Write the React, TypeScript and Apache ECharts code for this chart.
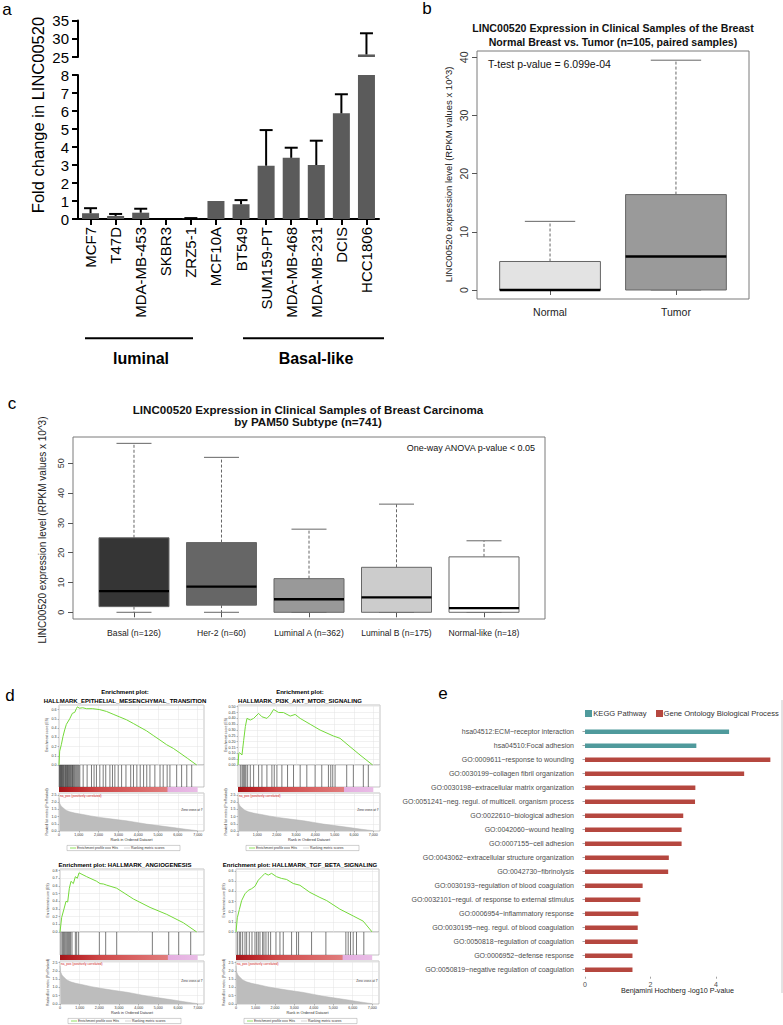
import React, { useEffect, useRef } from "react";
import * as echarts from "echarts";

const FONT = "'Liberation Sans', Arial, Helvetica, sans-serif";

// ---------------- panel a ----------------
const cellLines = ["MCF7", "T47D", "MDA-MB-453", "SKBR3", "ZRZ5-1", "MCF10A", "BT549", "SUM159-PT", "MDA-MB-468", "MDA-MB-231", "DCIS", "HCC1806"];
const foldMean = [0.32, 0.17, 0.35, 0, 0.02, 1.0, 0.82, 2.96, 3.4, 3.0, 5.87, 25.7];
const foldUpper = [0.6, 0.28, 0.57, 0, 0.05, 1.0, 1.05, 4.94, 3.96, 4.35, 6.93, 31.5];
const groupNames = ["luminal", "Basal-like"];

// ---------------- panel b ----------------
const pairGroups = ["Normal", "Tumor"];
// low, q1, median, q3, high
const pairStats = [
  [0, 0, 0, 4.9, 11.8],
  [0, 0, 5.75, 16.4, 39.5],
];
const pairTicks = [0, 10, 20, 30, 40];

// ---------------- panel c ----------------
const pamGroups = ["Basal (n=126)", "Her-2 (n=60)", "Luminal A (n=362)", "Luminal B (n=175)", "Normal-like (n=18)"];
const pamStats = [
  [0, 1.9, 7.1, 25.0, 56.7],
  [0, 2.4, 8.6, 23.4, 52.0],
  [0, 0, 4.4, 11.3, 27.9],
  [0, 0, 5.0, 15.1, 36.3],
  [0, 0, 1.4, 18.6, 24.0],
];
const pamTicks = [0, 10, 20, 30, 40, 50];

// ---------------- panel d (GSEA) ----------------
const esEmt = [[0, 0], [34, 0.15], [118, 0.22], [202, 0.31], [287, 0.38], [371, 0.44], [540, 0.5], [675, 0.56], [793, 0.57], [877, 0.61], [928, 0.63], [1030, 0.615], [1200, 0.62], [1383, 0.61], [1700, 0.61], [2058, 0.6], [2400, 0.58], [2733, 0.55], [3070, 0.52], [3408, 0.49], [3750, 0.45], [4083, 0.41], [4420, 0.37], [4757, 0.32], [5100, 0.27], [5432, 0.22], [5770, 0.18], [6107, 0.13], [6500, 0.07], [6951, 0]];
const esPi3k = [[0, 0], [40, 0.1], [86, 0.105], [206, 0.086], [292, 0.21], [380, 0.33], [464, 0.4], [636, 0.386], [808, 0.4], [1066, 0.443], [1238, 0.414], [1496, 0.4], [1668, 0.43], [1840, 0.477], [2098, 0.451], [2356, 0.45], [2700, 0.42], [2958, 0.434], [3216, 0.4], [3732, 0.35], [4248, 0.3], [4936, 0.249], [5280, 0.229], [5796, 0.157], [6312, 0.086], [6966, 0]];
const esAngio = [[0, 0], [85, 0.19], [203, 0.3], [305, 0.4], [390, 0.39], [475, 0.57], [559, 0.66], [678, 0.63], [780, 0.72], [881, 0.7], [966, 0.77], [1356, 0.72], [1865, 0.66], [2034, 0.63], [2204, 0.625], [2373, 0.61], [2882, 0.57], [3729, 0.43], [4577, 0.32], [5424, 0.23], [6272, 0.12], [6950, 0]];
const esTgf = [[0, 0], [68, 0.14], [171, 0.22], [291, 0.31], [462, 0.376], [633, 0.41], [804, 0.426], [975, 0.45], [1146, 0.51], [1317, 0.544], [1489, 0.577], [1660, 0.56], [1831, 0.577], [2087, 0.544], [2344, 0.527], [2601, 0.517], [2943, 0.477], [3285, 0.46], [3798, 0.39], [4312, 0.34], [4654, 0.31], [5338, 0.225], [6023, 0.158], [6536, 0.107], [6998, 0]];

const hitsEmt = [20, 50, 80, 110, 140, 160, 190, 230, 260, 300, 330, 370, 400, 430, 470, 500, 540, 570, 610, 650, 680, 720, 760, 800, 850, 900, 950, 1000, 1050, 1220, 1420, 1640, 1770, 1890, 2060, 2230, 2360, 2570, 2700, 2820, 2990, 3160, 3380, 3620, 3760, 3930, 4100, 4270, 4430, 4590, 4840, 5100, 5260, 5460, 5600, 5940, 6190, 6450, 6700];
const hitsPi3k = [120, 206, 258, 310, 361, 413, 499, 636, 808, 1066, 1238, 1496, 1754, 1875, 2012, 2270, 2563, 2872, 3216, 3560, 3990, 4334, 4678, 4799, 4902, 5022, 5624, 5968, 6484, 6742];
const hitsAngio = [51, 119, 170, 220, 271, 339, 390, 441, 492, 542, 610, 780, 848, 949, 2000, 2322, 2882, 4695, 5526, 6034, 6644];
const hitsTgf = [68, 171, 240, 342, 462, 548, 684, 821, 975, 1061, 1146, 1232, 1369, 1437, 1540, 1660, 1779, 2053, 2259, 2430, 2857, 3114, 3217, 3884, 4620, 5646, 5766, 5886, 6023, 6194, 6570];

const rankedMetric = [[0, 2.3], [30, 1.95], [100, 1.75], [202, 1.62], [350, 1.45], [540, 1.34], [800, 1.25], [1215, 1.15], [1600, 1.05], [2058, 0.95], [2700, 0.83], [3408, 0.71], [4000, 0.58], [4420, 0.48], [5100, 0.36], [5770, 0.24], [6400, 0.12], [7000, 0.02]];

// ---------------- panel e ----------------
const eTerms = [
  "hsa04512:ECM~receptor interaction",
  "hsa04510:Focal adhesion",
  "GO:0009611~response to wounding",
  "GO:0030199~collagen fibril organization",
  "GO:0030198~extracellular matrix organization",
  "GO:0051241~neg. regul. of multicell. organism process",
  "GO:0022610~biological adhesion",
  "GO:0042060~wound healing",
  "GO:0007155~cell adhesion",
  "GO:0043062~extracellular structure organization",
  "GO:0042730~fibrinolysis",
  "GO:0030193~regulation of blood coagulation",
  "GO:0032101~regul. of response to external stimulus",
  "GO:0006954~inflammatory response",
  "GO:0030195~neg. regul. of blood coagulation",
  "GO:0050818~regulation of coagulation",
  "GO:0006952~defense response",
  "GO:0050819~negative regulation of coagulation",
];
const eValues = [4.4, 3.4, 5.66, 4.86, 3.37, 3.36, 3.0, 2.95, 2.95, 2.56, 2.54, 1.76, 1.69, 1.63, 1.61, 1.61, 1.45, 1.45];
const eSource = ["KEGG", "KEGG", "GO", "GO", "GO", "GO", "GO", "GO", "GO", "GO", "GO", "GO", "GO", "GO", "GO", "GO", "GO", "GO"];
const eLegend = ["KEGG Pathway", "Gene Ontology Biological Process"];
const eTicks = [0, 2, 4];

const TEAL = "#4f9a9c";
const BRICK = "#b5473f";

function makeBoxRender(fills: string[]) {
  return (params: any, api: any) => {
    const x = api.value(0);
    const lo = api.value(1), q1 = api.value(2), md = api.value(3), q3 = api.value(4), hi = api.value(5);
    const half = 0.4, cap = 0.2;
    const xL = api.coord([x - half, 0])[0];
    const xR = api.coord([x + half, 0])[0];
    const cL = api.coord([x - cap, 0])[0];
    const cR = api.coord([x + cap, 0])[0];
    const cx = api.coord([x, 0])[0];
    const y = (v: number) => api.coord([x, v])[1];
    const ch: any[] = [];
    const dash = { stroke: "#666", lineWidth: 1, lineDash: [3, 2] };
    if (hi > q3) ch.push({ type: "line", shape: { x1: cx, y1: y(q3), x2: cx, y2: y(hi) }, style: dash });
    if (q1 > lo) ch.push({ type: "line", shape: { x1: cx, y1: y(q1), x2: cx, y2: y(lo) }, style: dash });
    ch.push({ type: "line", shape: { x1: cL, y1: y(hi), x2: cR, y2: y(hi) }, style: { stroke: "#666", lineWidth: 1 } });
    ch.push({ type: "line", shape: { x1: cL, y1: y(lo), x2: cR, y2: y(lo) }, style: { stroke: "#666", lineWidth: 1 } });
    ch.push({ type: "rect", shape: { x: xL, y: y(q3), width: xR - xL, height: y(q1) - y(q3) }, style: { fill: fills[params.dataIndex], stroke: "#666", lineWidth: 1 } });
    ch.push({ type: "line", shape: { x1: xL, y1: y(md), x2: xR, y2: y(md) }, style: { stroke: "#000", lineWidth: 2.4 } });
    return { type: "group", children: ch };
  };
}

function buildOption() {
  const grid: any[] = [], xAxis: any[] = [], yAxis: any[] = [], series: any[] = [], gfx: any[] = [];
  const text = (x: number, y: number, s: string, size: number, o: any = {}) => {
    gfx.push({
      type: "text", x, y, rotation: o.rot || 0, silent: true, z: 100,
      style: {
        text: s, fontSize: size, fontFamily: FONT, fontWeight: o.bold ? "bold" : "normal", fill: o.color || "#111",
        align: o.align || "center", textAlign: o.align || "center", verticalAlign: "middle", textVerticalAlign: "middle",
      },
    });
  };
  const line = (x1: number, y1: number, x2: number, y2: number, color: string, w: number) => {
    gfx.push({ type: "line", silent: true, z: 100, shape: { x1, y1, x2, y2 }, style: { stroke: color, lineWidth: w } });
  };

  // panel letters
  text(7, 9, "a", 17, { color: "#000" });
  text(427, 8, "b", 17, { color: "#000" });
  text(12, 403, "c", 17, { color: "#000" });
  text(10, 695, "d", 17, { color: "#000" });
  text(443, 693, "e", 17, { color: "#000" });

  // ================= panel a =================
  const blackLine = { show: true, lineStyle: { color: "#000", width: 2 } };
  const blackTick = { show: true, length: 6, lineStyle: { color: "#000", width: 2 } };
  grid.push({ left: 78, top: 20.5, width: 301, height: 36.5 }); // 0
  grid.push({ left: 78, top: 75, width: 301, height: 144 }); // 1
  xAxis.push({ gridIndex: 0, type: "category", data: cellLines, show: false });
  yAxis.push({ gridIndex: 0, type: "value", min: 25, max: 35, interval: 5, axisLine: blackLine, axisTick: blackTick, splitLine: { show: false }, axisLabel: { fontSize: 15, color: "#000", margin: 9, fontFamily: FONT } });
  xAxis.push({ gridIndex: 1, type: "category", data: cellLines, axisLine: blackLine, axisTick: { ...blackTick, alignWithLabel: true }, axisLabel: { rotate: 90, fontSize: 15, color: "#000", margin: 8, interval: 0, fontFamily: FONT } });
  yAxis.push({ gridIndex: 1, type: "value", min: 0, max: 8, interval: 1, axisLine: blackLine, axisTick: blackTick, splitLine: { show: false }, axisLabel: { fontSize: 15, color: "#000", margin: 9, fontFamily: FONT } });
  series.push({ type: "bar", xAxisIndex: 1, yAxisIndex: 1, data: foldMean, barWidth: 17, clip: true, silent: true, itemStyle: { color: "#5b5b5b" } });
  series.push({ type: "bar", xAxisIndex: 0, yAxisIndex: 0, data: foldMean.map((v) => (v > 25 ? v : "-")), barWidth: 17, clip: true, silent: true, itemStyle: { color: "#5b5b5b" } });
  const errRender = (params: any, api: any) => {
    const i = api.value(0);
    const a = api.coord([i, api.value(1)]);
    const b = api.coord([i, api.value(2)]);
    return {
      type: "group",
      children: [
        { type: "line", shape: { x1: a[0], y1: a[1], x2: b[0], y2: b[1] }, style: { stroke: "#000", lineWidth: 2 } },
        { type: "line", shape: { x1: b[0] - 6.5, y1: b[1], x2: b[0] + 6.5, y2: b[1] }, style: { stroke: "#000", lineWidth: 2 } },
      ],
    };
  };
  series.push({ type: "custom", xAxisIndex: 1, yAxisIndex: 1, silent: true, z: 5, renderItem: errRender, data: cellLines.map((_, i) => [i, foldMean[i], foldUpper[i]]).filter((d) => d[2] <= 8 && d[2] > d[1]) });
  series.push({ type: "custom", xAxisIndex: 0, yAxisIndex: 0, silent: true, z: 5, renderItem: errRender, data: cellLines.map((_, i) => [i, foldMean[i], foldUpper[i]]).filter((d) => d[1] > 8) });
  text(38, 115, "Fold change in LINC00520", 16.5, { rot: Math.PI / 2, color: "#000" });
  line(85, 338.3, 193, 338.3, "#000", 2);
  line(243, 338.3, 384, 338.3, "#000", 2);
  text(141, 358, groupNames[0], 16, { bold: true, color: "#000" });
  text(316, 358, groupNames[1], 16, { bold: true, color: "#000" });

  // ================= panel b =================
  grid.push({ left: 477, top: 51, width: 272, height: 248, show: true, borderColor: "#7a7a7a", borderWidth: 1, backgroundColor: "transparent" }); // 2
  xAxis.push({ gridIndex: 2, type: "value", min: 0.42, max: 2.58, axisLine: { show: false }, splitLine: { show: false }, axisTick: { show: true, customValues: [1, 2], length: 5, lineStyle: { color: "#555" } }, axisLabel: { customValues: [1, 2], formatter: (v: number) => pairGroups[Math.round(v) - 1] || "", fontSize: 10.5, color: "#222", margin: 7 } });
  yAxis.push({ gridIndex: 2, type: "value", min: -1.547, max: 41.08, axisLine: { show: false }, splitLine: { show: false }, axisTick: { show: true, customValues: pairTicks, length: 5, lineStyle: { color: "#555" } }, axisLabel: { customValues: pairTicks, rotate: 90, fontSize: 10.5, color: "#333", margin: 8 } });
  series.push({ type: "custom", xAxisIndex: 2, yAxisIndex: 2, silent: true, renderItem: makeBoxRender(["#e3e3e3", "#9a9a9a"]), data: pairStats.map((s, i) => [i + 1, ...s]) });
  text(613, 28.3, "LINC00520 Expression in Clinical Samples of the Breast", 10.6, { bold: true });
  text(613, 41.7, "Normal Breast vs. Tumor (n=105, paired samples)", 10.6, { bold: true });
  text(488, 64, "T-test p-value = 6.099e-04", 10.5, { align: "left" });
  text(448, 174.5, "LINC00520 expression level (RPKM values x 10^3)", 9.5, { rot: Math.PI / 2, color: "#222" });

  // ================= panel c =================
  grid.push({ left: 73, top: 437, width: 472, height: 182, show: true, borderColor: "#7a7a7a", borderWidth: 1, backgroundColor: "transparent" }); // 3
  xAxis.push({ gridIndex: 3, type: "value", min: 0.303, max: 5.697, axisLine: { show: false }, splitLine: { show: false }, axisTick: { show: true, customValues: [1, 2, 3, 4, 5], length: 5, lineStyle: { color: "#555" } }, axisLabel: { customValues: [1, 2, 3, 4, 5], formatter: (v: number) => pamGroups[Math.round(v) - 1] || "", fontSize: 8.6, color: "#222", margin: 9 } });
  yAxis.push({ gridIndex: 3, type: "value", min: -2.25, max: 58.83, axisLine: { show: false }, splitLine: { show: false }, axisTick: { show: true, customValues: pamTicks, length: 5, lineStyle: { color: "#555" } }, axisLabel: { customValues: pamTicks, rotate: 90, fontSize: 9, color: "#333", margin: 8 } });
  series.push({ type: "custom", xAxisIndex: 3, yAxisIndex: 3, silent: true, renderItem: makeBoxRender(["#353535", "#666666", "#999999", "#cccccc", "#ffffff"]), data: pamStats.map((s, i) => [i + 1, ...s]) });
  text(308, 409, "LINC00520 Expression in Clinical Samples of Breast Carcinoma", 11.6, { bold: true });
  text(308, 421, "by PAM50 Subtype (n=741)", 11.6, { bold: true });
  text(535, 448, "One-way ANOVA p-value < 0.05", 9, { align: "right" });
  text(42, 530, "LINC00520 expression level (RPKM values x 10^3)", 10, { rot: Math.PI / 2, color: "#222" });

  // ================= panel e =================
  grid.push({ left: 579, top: 724.7, width: 202, height: 252 }); // 4
  xAxis.push({ gridIndex: 4, type: "value", min: -0.183, max: 5.985, axisLine: { show: false }, splitLine: { show: false }, axisTick: { show: true, customValues: eTicks, length: 2, lineStyle: { color: "#666", width: 0.6 } }, axisLabel: { customValues: eTicks, fontSize: 7, color: "#4d4d4d", margin: 4 } });
  yAxis.push({ gridIndex: 4, type: "category", data: eTerms, inverse: true, axisLine: { show: false }, splitLine: { show: false }, axisTick: { show: true, length: 2.5, alignWithLabel: true, lineStyle: { color: "#666", width: 0.6 } }, axisLabel: { fontSize: 7, color: "#4d4d4d", margin: 5, interval: 0 } });
  series.push({ type: "bar", name: eLegend[0], xAxisIndex: 4, yAxisIndex: 4, silent: true, barWidth: 4.5, barGap: "-100%", itemStyle: { color: TEAL }, data: eValues.map((v, i) => (eSource[i] === "KEGG" ? v : "-")) });
  series.push({ type: "bar", name: eLegend[1], xAxisIndex: 4, yAxisIndex: 4, silent: true, barWidth: 4.5, barGap: "-100%", itemStyle: { color: BRICK }, data: eValues.map((v, i) => (eSource[i] === "GO" ? v : "-")) });
  gfx.push({ type: "rect", silent: true, shape: { x: 585, y: 710, width: 7, height: 7 }, style: { fill: TEAL } });
  text(593.3, 713.5, eLegend[0], 7.6, { align: "left", color: "#333" });
  gfx.push({ type: "rect", silent: true, shape: { x: 656, y: 710, width: 7, height: 7 }, style: { fill: BRICK } });
  text(663.5, 713.5, eLegend[1], 7.6, { align: "left", color: "#333" });
  text(677.5, 990.3, "Benjamini Hochberg -log10 P-value", 7.2, { color: "#222" });
  line(782, 700, 782, 993, "#c8c8c8", 1);

  // ================= panel d (GSEA) =================
  const gsea = (L: any, es: number[][], hits: number[], esMax: number, esStep: number, digits: number, titles: string[]) => {
    const gi = grid.length;
    const gridBorder = { show: true, borderColor: "#a0a0a0", borderWidth: 0.6, backgroundColor: "#fff" };
    const light = { show: true, lineStyle: { color: "#e2e2e2", width: 0.5 } };
    const tinyTick = { show: true, length: 1.5, lineStyle: { color: "#777", width: 0.5 } };
    // ES
    grid.push({ left: L.left, top: L.esTop, width: L.width, height: L.esH, ...gridBorder });
    xAxis.push({ gridIndex: gi, type: "value", min: 0, max: L.xMax, interval: 1000, axisLine: { show: false }, axisTick: { show: false }, axisLabel: { show: false }, splitLine: light });
    yAxis.push({ gridIndex: gi, type: "value", min: 0, max: esMax, interval: esStep, axisLine: { show: false }, axisTick: tinyTick, splitLine: light, axisLabel: { fontSize: 3.6, color: "#333", margin: 2.5, showMaxLabel: false, formatter: (v: number) => v.toFixed(digits) } });
    series.push({ type: "line", xAxisIndex: gi, yAxisIndex: gi, data: es, symbol: "none", showSymbol: false, silent: true, lineStyle: { color: "#74d93a", width: 1 } });
    // hits
    const hi = gi + 1;
    const hitsTop = L.esTop + L.esH;
    grid.push({ left: L.left, top: hitsTop, width: L.width, height: L.hitsH, ...gridBorder });
    xAxis.push({ gridIndex: hi, type: "value", min: 0, max: L.xMax, show: false });
    yAxis.push({ gridIndex: hi, type: "value", min: 0, max: 1, show: false });
    series.push({
      type: "custom", xAxisIndex: hi, yAxisIndex: hi, silent: true, data: hits.map((h) => [h, 0.5]),
      renderItem: (p: any, api: any) => {
        const a = api.coord([api.value(0), 0]);
        const b = api.coord([api.value(0), 1]);
        return { type: "line", shape: { x1: a[0], y1: a[1], x2: b[0], y2: b[1] }, style: { stroke: "#222", lineWidth: 0.6 } };
      },
    });
    // red/pink ranking bar
    const redTop = hitsTop + L.hitsH;
    gfx.push({
      type: "rect", silent: true, z: 50,
      shape: { x: L.left, y: redTop, width: (L.width * 7000) / L.xMax, height: 5 },
      style: {
        fill: {
          type: "linear", x: 0, y: 0, x2: 1, y2: 0,
          colorStops: [
            { offset: 0, color: "#a3161a" }, { offset: 0.1, color: "#b82327" }, { offset: 0.3, color: "#cf4a4a" },
            { offset: 0.55, color: "#d96464" }, { offset: 0.78, color: "#e07d7d" }, { offset: 0.785, color: "#e4aee0" }, { offset: 1, color: "#e9bde6" },
          ],
        },
      },
    });
    // metric
    const mi = gi + 2;
    grid.push({ left: L.left, top: L.metTop, width: L.width, height: L.metH, ...gridBorder });
    xAxis.push({ gridIndex: mi, type: "value", min: 0, max: L.xMax, interval: 1000, axisLine: { show: false }, axisTick: tinyTick, splitLine: light, axisLabel: { fontSize: 3.6, color: "#333", margin: 2, showMaxLabel: false, formatter: (v: number) => v.toLocaleString("en-US") } });
    yAxis.push({ gridIndex: mi, type: "value", min: 0, max: L.metMax, interval: 0.5, axisLine: { show: false }, axisTick: tinyTick, splitLine: light, axisLabel: { fontSize: 3.6, color: "#333", margin: 2.5, showMaxLabel: false, formatter: (v: number) => v.toFixed(1) } });
    series.push({ type: "line", xAxisIndex: mi, yAxisIndex: mi, data: rankedMetric, symbol: "none", showSymbol: false, silent: true, lineStyle: { color: "#b5b5b5", width: 0.5 }, areaStyle: { color: "#bdbdbd", opacity: 1 } });
    text(L.left + 1, L.metTop + 2.5, "na_pos (positively correlated)", 3.2, { align: "left", color: "#d02020" });
    text(L.left + L.width - 1.5, L.metTop + L.metH * 0.45, "Zero cross at 7", 3.2, { align: "right", color: "#333" });
    // titles
    titles.forEach((t, k) => text(L.titleX, L.titleY[k], t, 6, { bold: true, color: "#000" }));
    text(L.left - 12, L.esTop + L.esH / 2, "Enrichment score (ES)", 3.4, { rot: Math.PI / 2, color: "#444" });
    text(L.left - 12, L.metTop + L.metH / 2, "Ranked list metric (PreRanked)", 3.4, { rot: Math.PI / 2, color: "#444" });
    text(L.left + L.width / 2, L.rankY, "Rank in Ordered Dataset", 3.8, { color: "#333" });
    // legend
    const lx = L.left + 8, ly = L.legendY;
    gfx.push({ type: "rect", silent: true, shape: { x: lx, y: ly - 2.6, width: 113, height: 5.2 }, style: { fill: "#fff", stroke: "#a0a0a0", lineWidth: 0.5 } });
    line(lx + 3, ly, lx + 9, ly, "#74d93a", 0.8);
    text(lx + 10, ly, "Enrichment profile", 3.4, { align: "left", color: "#333" });
    line(lx + 38, ly, lx + 44, ly, "#222", 0.6);
    text(lx + 45, ly, "Hits", 3.4, { align: "left", color: "#333" });
    line(lx + 57, ly, lx + 63, ly, "#bbb", 0.6);
    text(lx + 64, ly, "Ranking metric scores", 3.4, { align: "left", color: "#333" });
  };

  const top1 = { esTop: 705, esH: 60, hitsH: 22, metTop: 793, metH: 38, metMax: 2.65, rankY: 840, legendY: 848 };
  const top2 = { esTop: 869, esH: 63, hitsH: 23, metTop: 961, metH: 43, metMax: 2.6, rankY: 1013, legendY: 1021 };
  gsea({ ...top1, left: 59, width: 145, xMax: 7320, titleX: 125, titleY: [692, 701] }, esEmt, hitsEmt, 0.65, 0.1, 1, ["Enrichment plot:", "HALLMARK_EPITHELIAL_MESENCHYMAL_TRANSITION"]);
  gsea({ ...top1, left: 238, width: 142, xMax: 7346, titleX: 300, titleY: [692, 701] }, esPi3k, hitsPi3k, 0.515, 0.05, 2, ["Enrichment plot:", "HALLMARK_PI3K_AKT_MTOR_SIGNALING"]);
  gsea({ ...top2, left: 60, width: 144, xMax: 7320, titleX: 125, titleY: [865] }, esAngio, hitsAngio, 0.82, 0.1, 1, ["Enrichment plot: HALLMARK_ANGIOGENESIS"]);
  gsea({ ...top2, left: 236, width: 143, xMax: 7350, titleX: 300, titleY: [865] }, esTgf, hitsTgf, 0.62, 0.1, 1, ["Enrichment plot: HALLMARK_TGF_BETA_SIGNALING"]);

  return {
    animation: false,
    backgroundColor: "#ffffff",
    textStyle: { fontFamily: FONT },
    grid, xAxis, yAxis, series,
    graphic: { elements: gfx },
  };
}

export default function App() {
  const ref = useRef<HTMLDivElement>(null);
  useEffect(() => {
    if (!ref.current) return;
    const chart = echarts.init(ref.current, null, { renderer: "svg" });
    chart.setOption(buildOption() as any);
    return () => chart.dispose();
  }, []);
  return <div ref={ref} style={{ position: "absolute", left: 0, top: 0, width: 783, height: 1025, background: "#fff" }} />;
}
